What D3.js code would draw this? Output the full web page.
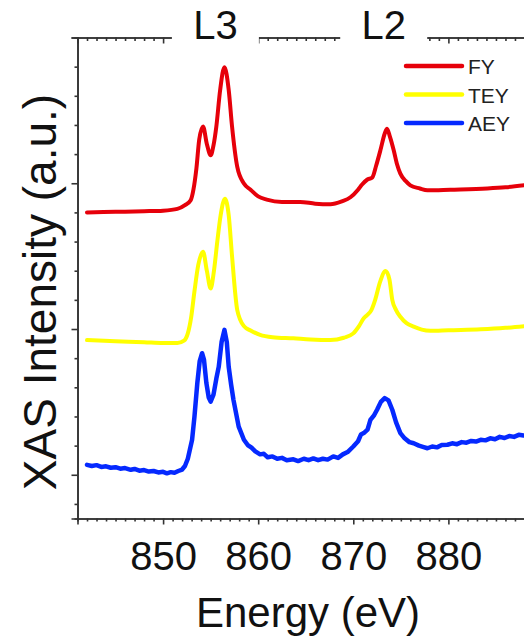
<!DOCTYPE html>
<html>
<head>
<meta charset="utf-8">
<script src="https://cdn.jsdelivr.net/npm/d3@7"></script>
<style>
  html, body { margin: 0; padding: 0; background: #fff; }
  svg { display: block; font-family: "Liberation Sans", Arial, sans-serif; }
</style>
</head>
<body>
<svg id="chart" width="524" height="639"></svg>
<script>
// Cu L-edge XAS spectra, stacked with vertical offsets (arbitrary units)
const fyEnergy = [842.0, 845, 848, 850, 851.5, 852.3, 852.9, 853.2, 853.5, 853.8, 854.2, 854.6, 855.0, 855.3, 855.6, 856.0, 856.45, 856.9, 857.25, 857.8, 858.5, 859.2, 860.0, 860.9, 862.5, 864.4, 866, 867.6, 868.8, 869.7, 870.5, 870.9, 871.45, 872.0, 872.4, 872.85, 873.3, 873.55, 873.85, 874.25, 874.6, 874.95, 875.5, 876.0, 877.0, 877.8, 880.2, 884.1, 886, 888];
const fyValue = [9.00, 9.02, 9.04, 9.06, 9.12, 9.25, 9.42, 9.8, 10.5, 11.5, 11.95, 11.35, 10.96, 11.3, 11.95, 13.2, 13.98, 13.2, 11.95, 10.56, 9.99, 9.78, 9.55, 9.44, 9.36, 9.36, 9.3, 9.28, 9.38, 9.52, 9.78, 9.95, 10.12, 10.2, 10.6, 11.13, 11.7, 11.87, 11.6, 11.13, 10.65, 10.33, 10.08, 9.93, 9.82, 9.76, 9.78, 9.82, 9.86, 9.93];

const teyEnergy = [842.0, 845, 848, 850, 851.5, 852.2, 852.6, 852.95, 853.3, 853.7, 854.2, 854.6, 855.0, 855.35, 855.7, 856.05, 856.5, 856.9, 857.25, 857.8, 858.5, 859.2, 860.2, 861.5, 863.7, 865.5, 867.6, 869.0, 870.0, 870.6, 871.1, 871.45, 871.9, 872.3, 872.8, 873.4, 873.8, 874.1, 874.5, 874.95, 875.6, 876.35, 877.2, 878.1, 880, 883.4, 886, 888];
const teyValue = [4.62, 4.58, 4.55, 4.52, 4.52, 4.6, 4.85, 5.4, 6.3, 7.2, 7.65, 7.0, 6.39, 7.0, 8.0, 8.9, 9.47, 8.9, 7.5, 5.65, 5.1, 4.95, 4.8, 4.72, 4.68, 4.64, 4.62, 4.7, 4.85, 5.1, 5.37, 5.48, 5.65, 6.0, 6.6, 6.99, 6.7, 6.0, 5.65, 5.42, 5.2, 5.08, 4.98, 4.94, 4.96, 4.99, 5.04, 5.1];

const aeyEnergy = [842.0, 842.5, 843.0, 843.5, 844.0, 844.5, 845.0, 845.5, 846.0, 846.6, 847.0, 847.5, 848.0, 848.5, 849.0, 849.5, 850.0, 850.4, 850.8, 851.2, 851.6, 852.0, 852.3, 852.6, 853.05, 853.3, 853.6, 853.85, 854.1, 854.3, 854.55, 854.8, 855.0, 855.3, 855.6, 855.85, 856.15, 856.45, 856.7, 856.9, 857.15, 857.4, 857.95, 858.5, 858.9, 859.3, 859.7, 860.2, 860.6, 861.0, 861.5, 862.0, 862.5, 863.0, 863.7, 864.2, 864.8, 865.3, 865.8, 866.3, 866.8, 867.3, 867.9, 868.4, 868.9, 869.4, 870.0, 870.5, 870.8, 871.1, 871.5, 871.8, 872.2, 872.5, 872.9, 873.3, 873.7, 874.1, 874.5, 874.95, 875.4, 875.9, 876.35, 876.9, 877.4, 877.8, 878.3, 878.8, 879.3, 879.9, 880.4, 880.9, 881.4, 881.9, 882.4, 882.9, 883.4, 883.9, 884.4, 884.9, 885.4, 885.9, 886.4, 886.9, 887.4, 887.9];
const aeyValue = [0.34, 0.30, 0.33, 0.27, 0.29, 0.24, 0.26, 0.21, 0.23, 0.17, 0.20, 0.14, 0.16, 0.11, 0.13, 0.08, 0.10, 0.05, 0.09, 0.07, 0.13, 0.18, 0.30, 0.55, 1.2, 2.0, 3.15, 3.9, 4.17, 3.95, 3.15, 2.65, 2.51, 2.75, 3.3, 3.7, 4.55, 4.97, 4.55, 3.7, 3.1, 2.57, 1.65, 1.2, 1.02, 0.93, 0.80, 0.70, 0.72, 0.60, 0.63, 0.55, 0.58, 0.50, 0.53, 0.47, 0.55, 0.50, 0.56, 0.50, 0.55, 0.52, 0.63, 0.58, 0.70, 0.78, 0.97, 1.15, 1.38, 1.43, 1.55, 1.88, 2.05, 2.23, 2.5, 2.63, 2.55, 2.23, 1.8, 1.43, 1.25, 1.12, 1.08, 1.0, 0.95, 0.91, 0.97, 0.94, 1.02, 1.03, 1.08, 1.05, 1.12, 1.10, 1.16, 1.14, 1.20, 1.18, 1.25, 1.22, 1.30, 1.26, 1.33, 1.30, 1.37, 1.35];

const seriesNames = ["FY", "TEY", "AEY"];
const seriesColors = ["#e6000a", "#ffff00", "#0529ff"];
const edgeLabels = ["L3", "L2"];
const edgeLabelEnergy = [855.5, 873.2];
const xMajorTicks = [850, 860, 870, 880];
const xMinorTicks = d3.range(842, 890, 1).filter(v => v % 10 !== 0);
const yMajorTicks = [0, 5, 10, 15];
const yMinorTicks = d3.range(-1, 16, 1).filter(v => v % 5 !== 0);

const svg = d3.select("#chart");
const plotLeft = 77.5, plotTop = 37.5, plotBottom = 518.5;
const x = d3.scaleLinear().domain([841, 890]).range([plotLeft, plotLeft + 9.51 * 49]);
const y = d3.scaleLinear().domain([-1.5, 15]).range([plotBottom, plotTop]);

const axisColor = "#333";

// each axis gets one group for minor ticks and one for major ticks
function axisPair(transform, minorAxis, majorAxis) {
  svg.append("g").attr("transform", transform).call(minorAxis);
  return svg.append("g").attr("transform", transform).call(majorAxis);
}

// bottom axis: outward ticks, labels on tens
axisPair(`translate(0,${plotBottom})`,
  d3.axisBottom(x).tickValues(xMinorTicks).tickSize(3).tickFormat(""),
  d3.axisBottom(x).tickValues(xMajorTicks).tickSize(6).tickPadding(17).tickFormat(d3.format("d")));

// top axis: inward ticks, no labels
axisPair(`translate(0,${plotTop})`,
  d3.axisTop(x).tickValues(xMinorTicks).tickSize(-3.5).tickFormat(""),
  d3.axisTop(x).tickValues(xMajorTicks).tickSize(-6).tickFormat(""));

// left axis: outward ticks, no labels
axisPair(`translate(${plotLeft},0)`,
  d3.axisLeft(y).tickValues(yMinorTicks).tickSize(3).tickFormat(""),
  d3.axisLeft(y).tickValues(yMajorTicks).tickSize(6).tickFormat(""));

svg.selectAll(".domain, .tick line").attr("stroke", axisColor).attr("stroke-width", 1.6);
svg.selectAll(".tick text")
  .attr("font-size", 40).attr("fill", "#111")
  .attr("font-family", "Liberation Sans, Arial, sans-serif");

// spectra
const line = d3.line().x(d => x(d[0])).y(d => y(d[1])).curve(d3.curveMonotoneX);
const noisyLine = d3.line().x(d => x(d[0])).y(d => y(d[1])).curve(d3.curveLinear);
const series = [
  { name: "FY", pts: d3.zip(fyEnergy, fyValue), gen: line, w: 4 },
  { name: "TEY", pts: d3.zip(teyEnergy, teyValue), gen: line, w: 4 },
  { name: "AEY", pts: d3.zip(aeyEnergy, aeyValue), gen: noisyLine, w: 4.5 }
];
svg.append("g").selectAll("path").data(series).join("path")
  .attr("d", s => s.gen(s.pts))
  .attr("fill", "none")
  .attr("stroke", (s, i) => seriesColors[i])
  .attr("stroke-width", s => s.w)
  .attr("stroke-linejoin", "round")
  .attr("stroke-linecap", "round");

// edge labels sit in white boxes that break the top axis
const gE = svg.append("g");
edgeLabels.forEach((lab, i) => {
  const cx = x(edgeLabelEnergy[i]);
  gE.append("rect").attr("x", cx - 43.5).attr("y", 0).attr("width", 87).attr("height", plotTop + 8).attr("fill", "#fff");
  gE.append("text").attr("x", cx).attr("y", 39).attr("text-anchor", "middle")
    .attr("font-size", 40).attr("fill", "#111").text(lab);
});

// legend
const gLeg = svg.append("g").attr("transform", "translate(406,66)");
seriesNames.forEach((name, i) => {
  const gy = i * 28.5;
  gLeg.append("line").attr("x1", 0).attr("x2", 56).attr("y1", gy).attr("y2", gy)
    .attr("stroke", seriesColors[i]).attr("stroke-width", 4.5).attr("stroke-linecap", "round");
  gLeg.append("text").attr("x", 62).attr("y", gy + 8).attr("font-size", 21).attr("fill", "#222").text(name);
});

// axis titles
svg.append("text").attr("x", 308).attr("y", 627).attr("text-anchor", "middle")
  .attr("font-size", 42).attr("fill", "#111").text("Energy (eV)");
svg.append("text").attr("transform", "translate(56,292) rotate(-90)").attr("text-anchor", "middle")
  .attr("font-size", 46).attr("fill", "#111").text("XAS Intensity (a.u.)");
</script>
</body>
</html>
